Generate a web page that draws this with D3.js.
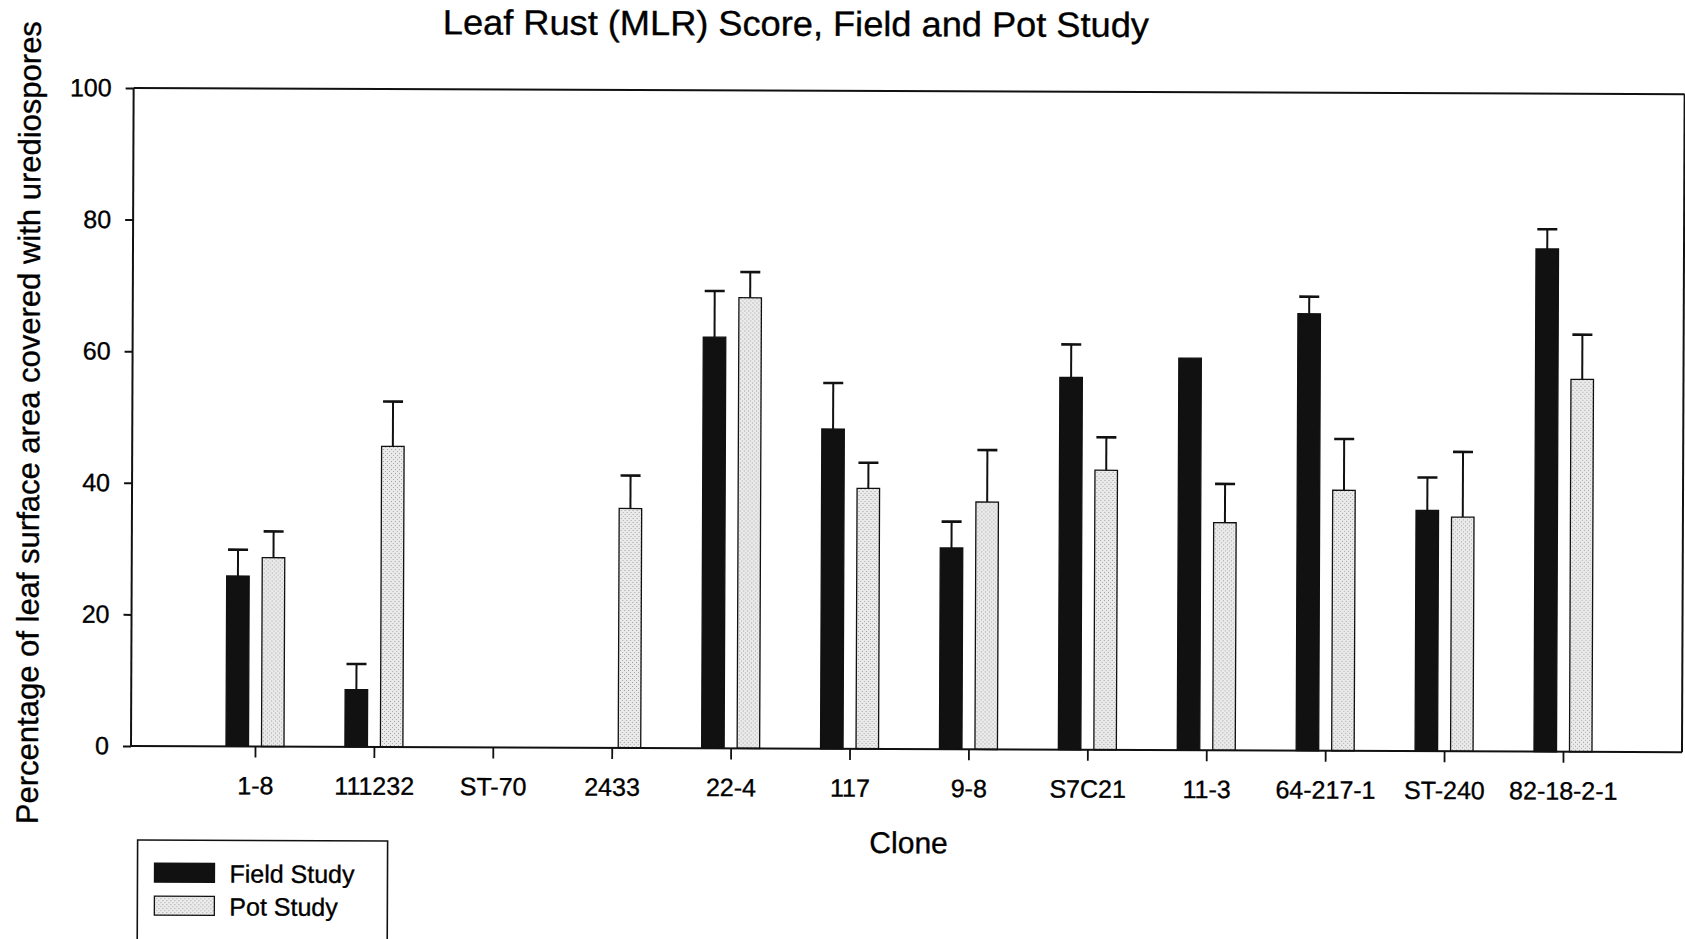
<!DOCTYPE html>
<html>
<head>
<meta charset="utf-8">
<script src="https://cdn.jsdelivr.net/npm/d3@7"></script>
<style>
  html, body { margin: 0; padding: 0; background: #fff; }
  svg text { font-family: "Liberation Sans", Arial, Helvetica, sans-serif; fill: #000; stroke: #000; stroke-width: 0.35px; }
</style>
</head>
<body>
<svg id="chart" width="1685" height="939"></svg>
<script>
// ---- data ----
const categories = ["1-8","111232","ST-70","2433","22-4","117","9-8","S7C21","11-3","64-217-1","ST-240","82-18-2-1"];
const fieldValues = [25.9, 8.7, null, null, 62.5, 48.6, 30.6, 56.6, 59.6, 66.4, 36.6, 76.4];
const fieldErrors = [4.0, 3.9, null, null, 7.0, 7.0, 4.0, 5.0, null, 2.6, 5.0, 3.0];
const potValues   = [28.7, 45.7, null, 36.4, 68.5, 39.6, 37.6, 42.5, 34.6, 39.6, 35.6, 56.6];
const potErrors   = [4.0, 6.8, null, 5.0, 3.9, 3.9, 7.9, 5.0, 5.9, 7.8, 9.9, 6.8];
const seriesNames = ["Field Study", "Pot Study"];
const yTicks = [0, 20, 40, 60, 80, 100];
const titleText = "Leaf Rust (MLR) Score, Field and Pot Study";
const xTitle = "Clone";
const yTitle = "Percentage of leaf surface area covered with urediospores";

// ---- layout ----
const svg = d3.select("#chart");
const L = 131, R = 1682, T = 88, B = 746;

const defs = svg.append("defs");
const pat = defs.append("pattern").attr("id", "stipple")
  .attr("patternUnits", "userSpaceOnUse").attr("width", 4).attr("height", 4);
pat.append("rect").attr("width", 4).attr("height", 4).attr("fill", "#ebebeb");
pat.append("rect").attr("x", 0).attr("y", 0).attr("width", 1).attr("height", 1).attr("fill", "#9a9a9a");
pat.append("rect").attr("x", 2).attr("y", 2).attr("width", 1).attr("height", 1).attr("fill", "#a8a8a8");

// whole scanned figure is slightly rotated
const g = svg.append("g").attr("transform", `rotate(0.23, ${L}, ${B})`);

const x = d3.scalePoint().domain(categories).range([255, 1563]);
const xSub = d3.scaleBand().domain(seriesNames).range([-29, 29]).paddingInner(0.366);
const y = d3.scaleLinear().domain([0, 100]).range([B, T]);

const rows = categories.map((c, i) => ({
  cat: c,
  vals: [
    { s: seriesNames[0], v: fieldValues[i], e: fieldErrors[i] },
    { s: seriesNames[1], v: potValues[i], e: potErrors[i] }
  ]
}));

// bars
const grp = g.append("g").selectAll("g").data(rows).join("g")
  .attr("transform", d => `translate(${x(d.cat)},0)`);

grp.selectAll("rect.bar").data(d => d.vals.filter(v => v.v != null)).join("rect")
  .attr("class", "bar")
  .attr("x", d => xSub(d.s))
  .attr("width", xSub.bandwidth())
  .attr("y", d => y(d.v))
  .attr("height", d => B - y(d.v))
  .attr("fill", d => d.s === seriesNames[0] ? "#111" : "url(#stipple)")
  .attr("stroke", "#111")
  .attr("stroke-width", 1.3);

// error bars
const eb = grp.selectAll("g.err").data(d => d.vals.filter(v => v.v != null && v.e != null)).join("g")
  .attr("class", "err");
eb.append("line")
  .attr("x1", d => xSub(d.s) + xSub.bandwidth() / 2)
  .attr("x2", d => xSub(d.s) + xSub.bandwidth() / 2)
  .attr("y1", d => y(d.v))
  .attr("y2", d => y(d.v + d.e))
  .attr("stroke", "#111").attr("stroke-width", 2);
eb.append("line")
  .attr("x1", d => xSub(d.s) + xSub.bandwidth() / 2 - 10)
  .attr("x2", d => xSub(d.s) + xSub.bandwidth() / 2 + 10)
  .attr("y1", d => y(d.v + d.e))
  .attr("y2", d => y(d.v + d.e))
  .attr("stroke", "#111").attr("stroke-width", 2.6);

// axes
const yAxis = g.append("g").attr("transform", `translate(${L},0)`)
  .call(d3.axisLeft(y).tickValues(yTicks).tickSize(8).tickSizeOuter(0).tickPadding(14));
yAxis.select(".domain").remove();
yAxis.selectAll(".tick line").attr("stroke", "#111").attr("stroke-width", 2);
yAxis.selectAll(".tick text").attr("font-size", 25).attr("fill", "#000");

const xAxis = g.append("g").attr("transform", `translate(0,${B})`)
  .call(d3.axisBottom(x).tickSize(11).tickSizeOuter(0).tickPadding(19));
xAxis.select(".domain").remove();
xAxis.selectAll(".tick line").attr("stroke", "#111").attr("stroke-width", 1.8);
xAxis.selectAll(".tick text").attr("font-size", 25).attr("fill", "#000");

// frame
const frame = g.append("g").attr("fill", "none").attr("stroke", "#111").attr("stroke-width", 2);
frame.append("line").attr("x1", L).attr("x2", L).attr("y1", T).attr("y2", B);
frame.append("line").attr("x1", L).attr("x2", R).attr("y1", B).attr("y2", B);
frame.append("line").attr("x1", L).attr("x2", R).attr("y1", T).attr("y2", T);
frame.append("line").attr("x1", R).attr("x2", R).attr("y1", T).attr("y2", B);

// titles
g.append("text").attr("x", 793).attr("y", 33).attr("text-anchor", "middle")
  .attr("font-size", 35).attr("textLength", 706).attr("lengthAdjust", "spacingAndGlyphs")
  .text(titleText);
g.append("text").attr("x", 909).attr("y", 850).attr("text-anchor", "middle")
  .attr("font-size", 30).text(xTitle);
g.append("text").attr("transform", "translate(38,423) rotate(-90)").attr("text-anchor", "middle")
  .attr("font-size", 31).text(yTitle);

// legend
const lg = g.append("g");
lg.append("rect").attr("x", 138).attr("y", 840).attr("width", 250).attr("height", 120)
  .attr("fill", "#fff").attr("stroke", "#111").attr("stroke-width", 1.6);
const li = lg.selectAll("g.li").data(seriesNames).join("g").attr("class", "li")
  .attr("transform", (d, i) => `translate(155,${863 + i * 33})`);
li.append("rect").attr("width", 60).attr("height", 19)
  .attr("fill", (d, i) => i === 0 ? "#111" : "url(#stipple)")
  .attr("stroke", "#111").attr("stroke-width", 1.3);
li.append("text").attr("x", 75).attr("y", 19).attr("font-size", 25).text(d => d);
</script>
</body>
</html>
